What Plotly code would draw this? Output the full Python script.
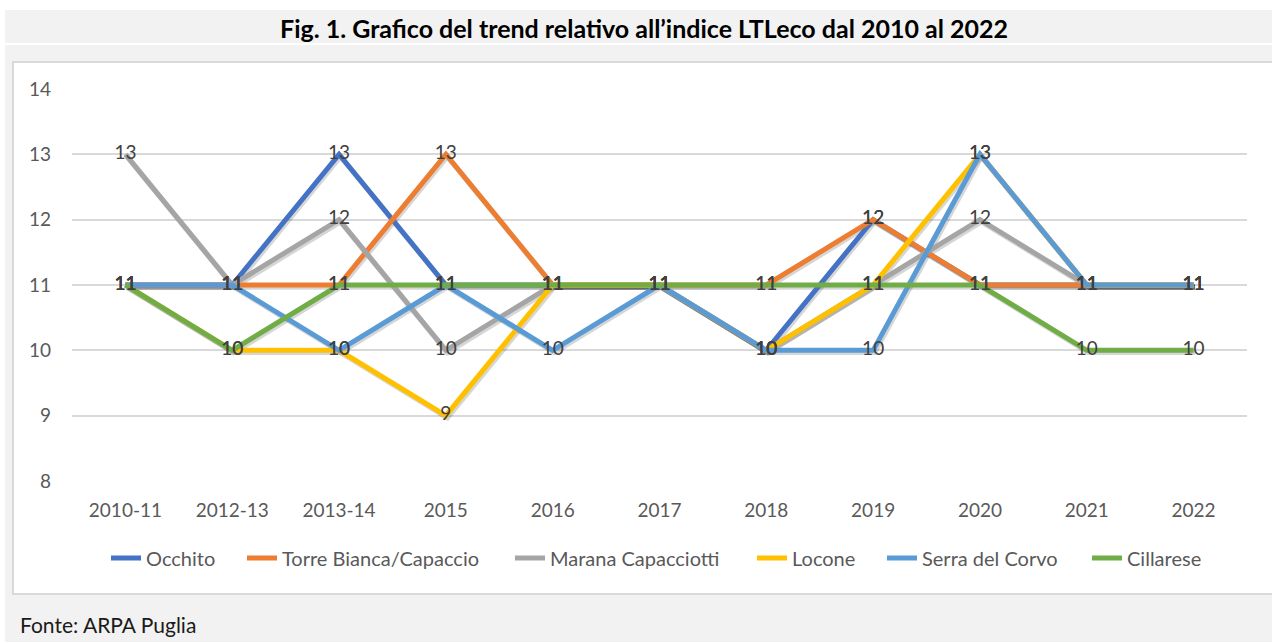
import plotly.graph_objects as go

# ---- data ----
categories = ["2010-11", "2012-13", "2013-14", "2015", "2016", "2017",
              "2018", "2019", "2020", "2021", "2022"]
occhito = [11, 11, 13, 11, 11, 11, 10, 12, 11, 11, 11]
torre_bianca = [11, 11, 11, 13, 11, 11, 11, 12, 11, 11, 11]
marana = [13, 11, 12, 10, 11, 11, 10, 11, 12, 11, 11]
locone = [11, 10, 10, 9, 11, 11, 10, 11, 13, 11, 11]
serra = [11, 11, 10, 11, 10, 11, 10, 10, 13, 11, 11]
cillarese = [11, 10, 11, 11, 11, 11, 11, 11, 11, 10, 10]

series_names = ["Occhito", "Torre Bianca/Capaccio", "Marana Capacciotti",
                "Locone", "Serra del Corvo", "Cillarese"]
series_values = [occhito, torre_bianca, marana, locone, serra, cillarese]
series_colors = ["#4472C4", "#ED7D31", "#A5A5A5", "#FFC000", "#5B9BD5", "#70AD47"]

y_ticks = [8, 9, 10, 11, 12, 13, 14]

title_text = "Fig. 1. Grafico del trend relativo all\u2019indice LTLeco dal 2010 al 2022"
source_text = "Fonte: ARPA Puglia"

# ---- geometry ----
W, H = 1272, 642
FONT = "Lato"


def px_x(x):
    return x / W


def px_y(y):
    return 1 - y / H


x_dom = [px_x(72), px_x(1247)]
y_dom = [px_y(481), px_y(89)]
x_range = [-0.5, 10.5]
y_range = [8, 14]
# shadow offset (in data units ~ 1.5px right, 2px down)
dx = 1.5 / ((1247 - 72) / 11)
dy = 2.0 / ((481 - 89) / 6)

# legend entry text starts (pixels) -> one legend box per series
legend_text_px = [146, 282, 550, 792, 922, 1127]
legend_ids = ["legend", "legend2", "legend3", "legend4", "legend5", "legend6"]

fig = go.Figure()

# invisible carrier trace so the main (grid/tick) subplot is created
fig.add_trace(go.Scatter(
    x=categories, y=occhito, mode="lines", xaxis="x", yaxis="y",
    line=dict(width=0, color="rgba(0,0,0,0)"), showlegend=False, hoverinfo="skip"))

# shadows
for name, vals in zip(series_names, series_values):
    fig.add_trace(go.Scatter(
        x=categories, y=vals, mode="lines", xaxis="x2", yaxis="y2",
        line=dict(color="rgba(0,0,0,0.16)", width=5.5),
        showlegend=False, hoverinfo="skip"))

# real lines
for name, vals, col, lg in zip(series_names, series_values, series_colors, legend_ids):
    fig.add_trace(go.Scatter(
        x=categories, y=vals, mode="lines", name=name, xaxis="x3", yaxis="y3",
        line=dict(color=col, width=5), legend=lg))

# data labels on top
for name, vals in zip(series_names, series_values):
    fig.add_trace(go.Scatter(
        x=categories, y=vals, mode="text", text=[str(v) for v in vals],
        textposition="middle center", xaxis="x3", yaxis="y3",
        textfont=dict(family=FONT, size=19, color="#404040"),
        showlegend=False, hoverinfo="skip"))

axis_common_hidden = dict(showgrid=False, zeroline=False, showticklabels=False,
                          showline=False, ticks="", automargin=False)

legend_layouts = {}
for lg, tx in zip(legend_ids, legend_text_px):
    legend_layouts[lg] = dict(
        orientation="h", x=px_x(tx - 40), xanchor="left", y=px_y(558),
        yanchor="middle", font=dict(family=FONT, size=20, color="#595959"),
        itemwidth=30, bgcolor="rgba(0,0,0,0)", borderwidth=0)

fig.update_layout(
    template="none",
    width=W, height=H, autosize=False,
    margin=dict(l=0, r=0, t=0, b=0, pad=0, autoexpand=False),
    paper_bgcolor="white", plot_bgcolor="rgba(0,0,0,0)",
    font=dict(family=FONT, color="#595959"),
    hovermode=False,
    xaxis=dict(domain=x_dom, type="category", categoryorder="array",
               categoryarray=categories, range=x_range, showgrid=False,
               zeroline=False, showline=False, ticks="", automargin=False,
               tickfont=dict(family=FONT, size=19, color="#595959"),
               ticklabelstandoff=16),
    yaxis=dict(domain=y_dom, range=y_range, tickvals=y_ticks, showgrid=True,
               gridcolor="#D9D9D9", gridwidth=2, zeroline=False, showline=False,
               ticks="", automargin=False,
               tickfont=dict(family=FONT, size=19, color="#595959"),
               ticklabelstandoff=20),
    xaxis2=dict(domain=x_dom, overlaying="x", type="category", categoryorder="array",
                categoryarray=categories,
                range=[x_range[0] - dx, x_range[1] - dx], **axis_common_hidden),
    yaxis2=dict(domain=y_dom, overlaying="y",
                range=[y_range[0] + dy, y_range[1] + dy], **axis_common_hidden),
    xaxis3=dict(domain=x_dom, overlaying="x", type="category", categoryorder="array",
                categoryarray=categories, range=x_range, **axis_common_hidden),
    yaxis3=dict(domain=y_dom, overlaying="y", range=y_range, **axis_common_hidden),
    shapes=[
        # title band
        dict(type="rect", xref="paper", yref="paper", x0=px_x(5), x1=px_x(1272),
             y0=px_y(43), y1=px_y(10), fillcolor="#F2F2F2", line=dict(width=0),
             layer="below"),
        # frame band
        dict(type="rect", xref="paper", yref="paper", x0=px_x(5), x1=px_x(1272),
             y0=px_y(642), y1=px_y(45), fillcolor="#F2F2F2", line=dict(width=0),
             layer="below"),
        # chart area
        dict(type="rect", xref="paper", yref="paper", x0=px_x(13), x1=px_x(1285),
             y0=px_y(594), y1=px_y(62), fillcolor="white",
             line=dict(color="#D9D9D9", width=2), layer="below"),
    ],
    annotations=[
        dict(text="<b>" + title_text + "</b>", xref="paper", yref="paper",
             x=px_x(644), y=px_y(28), xanchor="center", yanchor="middle",
             showarrow=False, font=dict(family=FONT, size=25, color="#000000")),
        dict(text=source_text, xref="paper", yref="paper",
             x=px_x(18), y=px_y(624), xanchor="left", yanchor="middle",
             showarrow=False, font=dict(family=FONT, size=21, color="#1A1A1A")),
    ],
    **legend_layouts,
)

fig.write_html("out.html", config={"displayModeBar": False},
               post_script="document.body.style.margin='0';")
